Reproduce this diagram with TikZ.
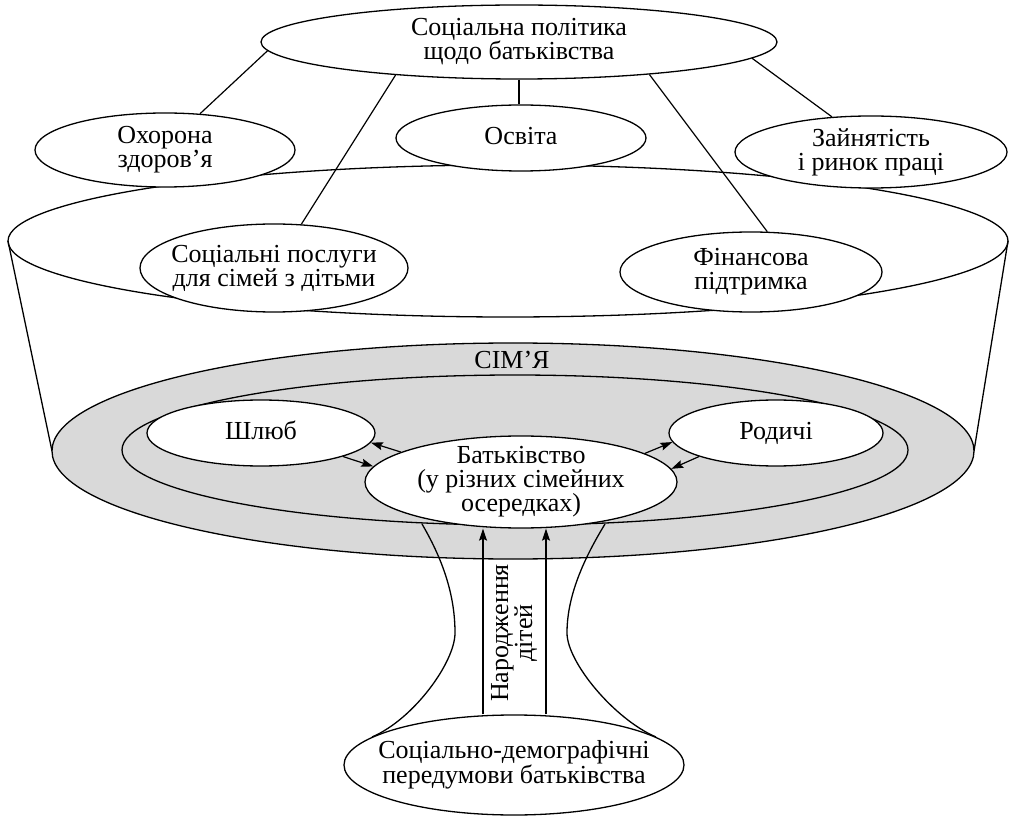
\documentclass[tikz,border=0pt]{standalone}
\usepackage{fontspec}
\setmainfont{Liberation Serif}
\newfontfamily\lserif{Liberation Serif}
\usetikzlibrary{shapes.geometric,arrows.meta}
\newcommand\dfs{\lserif\fontsize{26}{24}\selectfont}
\newcommand\eqh{\vphantom{Шбд}}
\definecolor{famgray}{gray}{0.85}
\begin{document}
\begin{tikzpicture}[x=1pt,y=-1pt,line width=1.3pt,
  ell/.style={draw, ellipse, fill=white, inner sep=0pt},
  txt/.style={align=center, font=\dfs, inner sep=0pt},
  arr/.style={-{Stealth[length=12pt,width=8pt,inset=2pt]}, line width=1.2pt},
  conn/.style={line width=1.2pt}]
\useasboundingbox (0,0) rectangle (1010,818);
% cone
\coordinate (cl) at (8,241);
\coordinate (cr) at (1008,241);
\coordinate (gl) at (52,451);
\coordinate (gr) at (974,451);
\draw (508,241) ellipse [x radius=500, y radius=76];
\draw (cl) -- (gl);
\draw (cr) -- (gr);
\draw[fill=famgray] (513,451) ellipse [x radius=461, y radius=108];
\draw (515,450) ellipse [x radius=393, y radius=75];
\node[txt] (fam) at (512,360) {СІМ’Я};
% hourglass
\draw (422,524) .. controls (446,565) and (455,600) .. (455,633) .. controls (455,662) and (414,719) .. (372,737);
\draw (605,524) .. controls (580,565) and (567,600) .. (567,633) .. controls (567,662) and (614,719) .. (656,737);
% nodes
\node[ell, minimum width=516, minimum height=74, label={[txt]center:{Соціальна політика\\щодо батьківства}}] (top) at (519,42) {};
\node[ell, minimum width=260, minimum height=74, label={[txt]center:{Охорона\\здоров’я}}] (ohorona) at (165,150) {};
\node[ell, minimum width=250, minimum height=66, label={[txt]center:{\eqh Освіта}}] (osvita) at (521,138) {};
\node[ell, minimum width=272, minimum height=72, label={[txt]center:{Зайнятість\\і ринок праці}}] (zayn) at (871,152) {};
\node[ell, minimum width=268, minimum height=88, label={[txt]center:{Соціальні послуги\\для сімей з дітьми}}] (posluhy) at (274,268) {};
\node[ell, minimum width=262, minimum height=80, label={[txt]center:{Фінансова\\підтримка}}] (finans) at (751,272) {};
\node[ell, minimum width=228, minimum height=66, label={[txt]center:{\eqh Шлюб}}] (shlyub) at (261,433) {};
\node[ell, minimum width=214, minimum height=66, label={[txt]center:{\eqh Родичі}}] (rodychi) at (776,433) {};
\node[ell, minimum width=312, minimum height=92, label={[txt]center:{Батьківство\\(у різних сімейних\\осередках)}}] (batk) at (521,482) {};
\node[ell, minimum width=340, minimum height=100, label={[txt]center:{Соціально-демографічні\\передумови батьківства}}] (sdp) at (514,765) {};
% connectors from top
\draw[conn] (top.182.4) -- (ohorona.46.6);
\draw[conn] (top.195.6) -- (posluhy.58);
\draw[conn] (top.south) -- (top.south |- osvita.north);
\draw[conn] (top.346) -- (finans.68);
\draw[conn] (top.356.8) -- (zayn.138);
% family arrows
\draw[arr] (batk.166.5) -- (shlyub.-5);
\draw[arr] (shlyub.-16) -- (batk.174);
\draw[arr] (batk.13.8) -- (rodychi.185);
\draw[arr] (rodychi.197.6) -- (batk.5.7);
% birth arrows
\coordinate (a1) at (483,0);
\coordinate (a2) at (546,0);
\draw[arr] (a1 |- sdp.north) -- (a1 |- batk.south);
\draw[arr] (a2 |- sdp.north) -- (a2 |- batk.south);
\node[txt, rotate=90] (birth) at (514,633) {Народження\\дітей};
\end{tikzpicture}
\end{document}
